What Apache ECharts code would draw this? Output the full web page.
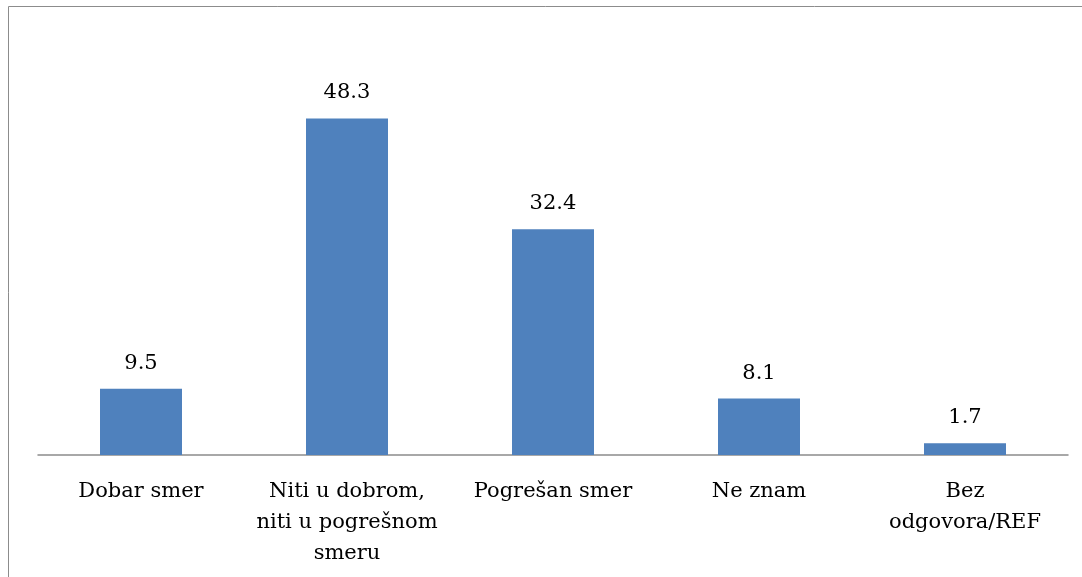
<!DOCTYPE html>
<html>
<head>
<meta charset="utf-8">
<script src="https://cdn.jsdelivr.net/npm/echarts@6/dist/echarts.min.js"></script>
<style>
  html, body { margin: 0; padding: 0; background: #fff; }
  #chart { width: 1082px; height: 577px; }
</style>
</head>
<body>
<div id="chart"></div>
<script>
const categories = [
  'Dobar smer',
  'Niti u dobrom,\nniti u pogrešnom\nsmeru',
  'Pogrešan smer',
  'Ne znam',
  'Bez\nodgovora/REF'
]
const values = [9.5, 48.3, 32.4, 8.1, 1.7]

const chart = echarts.init(document.getElementById('chart'), null, { renderer: 'canvas' })

const font = '"DejaVu Serif", "Liberation Serif", serif'

chart.setOption({
  animation: false,
  graphic: [
    {
      type: 'rect',
      shape: { x: 8.5, y: 6.5, width: 1100, height: 620 },
      style: { fill: 'none', stroke: '#8c8c8c', lineWidth: 1 },
      silent: true
    }
  ],
  grid: { left: 38, right: 14, top: 37, height: 418 },
  xAxis: {
    type: 'category',
    data: categories,
    axisLine: { lineStyle: { color: '#8c8c8c', width: 1.5 } },
    axisTick: { show: false },
    axisLabel: {
      interval: 0,
      margin: 21,
      color: '#000',
      fontFamily: font,
      fontSize: 21,
      lineHeight: 31
    }
  },
  yAxis: {
    type: 'value',
    min: 0,
    max: 60,
    show: false,
    splitLine: { show: false }
  },
  series: [
    {
      type: 'bar',
      data: values,
      barWidth: 82,
      itemStyle: { color: '#4f81bd' },
      label: {
        show: true,
        position: 'top',
        distance: 15,
        color: '#000',
        fontFamily: font,
        fontSize: 21
      }
    }
  ]
})
</script>
</body>
</html>
